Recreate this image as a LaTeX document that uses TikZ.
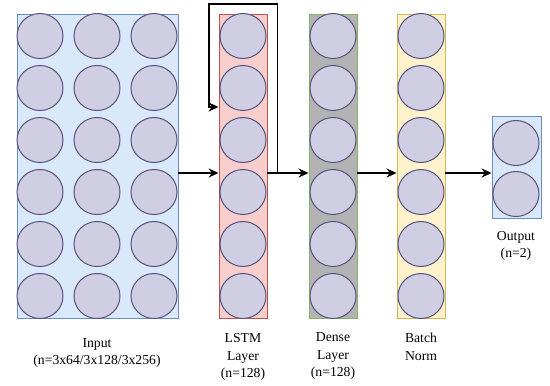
\documentclass[tikz,border=0pt]{standalone}
\usepackage{fontspec}
\setmainfont{Liberation Serif}
\usepackage{tikz}
\usetikzlibrary{arrows.meta,positioning,shapes.geometric}
\definecolor{inblue}{RGB}{218,232,252}
\definecolor{inborder}{RGB}{108,142,191}
\definecolor{lstmred}{RGB}{248,206,204}
\definecolor{lstmborder}{RGB}{184,84,80}
\definecolor{densegray}{RGB}{179,179,179}
\definecolor{denseborder}{RGB}{130,179,102}
\definecolor{normyellow}{RGB}{255,242,204}
\definecolor{normborder}{RGB}{214,182,86}
\definecolor{unitfill}{RGB}{208,206,226}
\definecolor{unitborder}{RGB}{86,81,126}

\tikzset{
    layerbox/.style={draw=#1, line width=0.8pt, inner sep=0pt, minimum width=48pt, minimum height=304pt},
    unit/.style={ellipse, draw=unitborder, fill=unitfill, line width=1pt, inner sep=0pt,
        minimum width=46pt, minimum height=45pt},
    flow/.style={line width=1.8pt, -{Stealth[length=10pt,width=9pt]}},
    caption/.style={align=center, font=\fontsize{13.7}{17.5}\selectfont}
}

\begin{document}
\begin{tikzpicture}[x=1pt,y=-1pt]
    \useasboundingbox (0,0) rectangle (550,386);

    % layer boxes
    \node[layerbox=inborder, fill=inblue, minimum width=161pt] (inp) at (97.5,166) {};
    \node[layerbox=lstmborder, fill=lstmred] (lstm) at (243,166) {};
    \node[layerbox=denseborder, fill=densegray] (dense) at (333,166) {};
    \node[layerbox=normborder, fill=normyellow] (bnorm) at (421,166) {};
    \node[layerbox=inborder, fill=inblue, minimum width=49pt, minimum height=102pt] (outp) at (516.5,167) {};

    % units
    \foreach \r in {1,...,6} {
        \foreach \c/\x in {1/40,2/97,3/154}
            \node[unit] (in-\r-\c) at (\x,{36+52*(\r-1)}) {};
        \node[unit] (ls-\r) at (243,{36+52*(\r-1)}) {};
        \node[unit] (de-\r) at (333,{36+52*(\r-1)}) {};
        \node[unit] (bn-\r) at (421,{36+52*(\r-1)}) {};
    }
    \node[unit] (out-1) at (516,143) {};
    \node[unit] (out-2) at (516,194) {};

    % connections
    \draw[flow] ([yshift=-7pt]inp.east) -- ([yshift=-7pt]lstm.west);
    \draw[flow] ([yshift=-7pt]lstm.east) -- ([yshift=-7pt]dense.west);
    \draw[flow] ([yshift=-7pt]dense.east) -- ([yshift=-7pt]bnorm.west);
    \draw[flow] ([yshift=-7pt]bnorm.east) -- ([yshift=-6pt]outp.west);
    \draw[flow] ([xshift=10pt,yshift=-7pt]lstm.east) |- ([xshift=-10pt,yshift=10pt]lstm.north west)
        |- ([yshift=59pt]lstm.west);

    % captions
    \node[caption] (inp-cap) at (97,353) {Input\\(n=3x64/3x128/3x256)};
    \node[caption] (lstm-cap) at (243,357) {LSTM\\Layer\\(n=128)};
    \node[caption] (dense-cap) at (333,356) {Dense\\Layer\\(n=128)};
    \node[caption] (bnorm-cap) at (421,347) {Batch\\Norm};
    \node[caption] (outp-cap) at (516,246) {Output\\(n=2)};
\end{tikzpicture}
\end{document}
